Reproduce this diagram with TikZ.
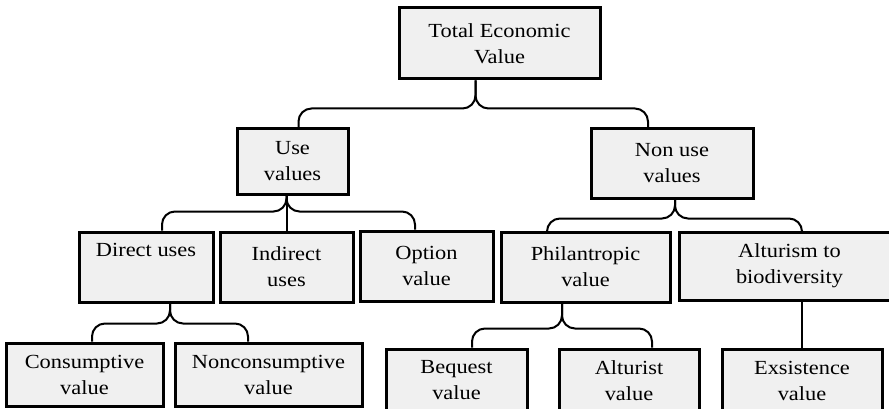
\documentclass[tikz,border=0pt]{standalone}
\usepackage{fontspec}
\setmainfont{Liberation Serif}[FakeStretch=1.12]
\definecolor{boxgray}{RGB}{240,240,240}
\tikzset{
  box/.style={draw, line width=3pt, fill=boxgray, align=center, inner sep=0pt,
    font=\fontsize{20}{26}\selectfont},
  brace/.style={line width=2pt, rounded corners=13pt}
}

\begin{document}
\begin{tikzpicture}[x=1pt,y=-1pt]
  \useasboundingbox (0,0) rectangle (889,409);
  % levels of the value tree
  \node[box,minimum width=201pt,minimum height=71pt] (TEV) at (499.5,43.5) {Total Economic\\Value};
  \node[box,minimum width=111pt,minimum height=65pt] (UV)  at (292.5,161.5) {Use\\values};
  \node[box,minimum width=162pt,minimum height=69pt] (NUV) at (672,163.5) {Non use\\values};

  \node[box,minimum width=134pt,minimum height=70pt] (DU) at (146,267) {Direct uses\\\strut};
  \node[box,minimum width=133pt,minimum height=70pt] (IU) at (286.5,267) {Indirect\\uses};
  \node[box,minimum width=133pt,minimum height=70pt] (OV) at (426.5,266) {Option\\value};
  \node[box,minimum width=169pt,minimum height=70pt] (PV) at (585.5,267) {Philantropic\\value};
  \node[box,minimum width=221pt,minimum height=68pt] (AB) at (789.5,266) {Alturism to\\biodiversity};

  \node[box,minimum width=157pt,minimum height=63pt] (CV)  at (84.5,374.5) {Consumptive\\value};
  \node[box,minimum width=187pt,minimum height=63pt] (NCV) at (268.5,374.5) {Nonconsumptive\\value};
  \node[box,minimum width=141pt,minimum height=63pt] (BV)  at (456.5,380.5) {Bequest\\value};
  \node[box,minimum width=140pt,minimum height=63pt] (AV)  at (629,380.5) {Alturist\\value};
  \node[box,minimum width=160pt,minimum height=63pt] (EV)  at (802,380.5) {Exsistence\\value};

  % braces
  \draw[brace] ([xshift=-24pt]TEV.south) -- ++(0,28) -| ([xshift=6pt]UV.north);
  \draw[brace] ([xshift=-24pt]TEV.south) -- ++(0,28) -| ([xshift=-24pt]NUV.north);

  \draw[brace] (IU.north |- UV.south) -- ++(0,16) -| ([xshift=16pt]DU.north);
  \draw[brace] (IU.north |- UV.south) -- ++(0,16) -| ([xshift=-11.5pt]OV.north);
  \draw[brace] (IU.north |- UV.south) -- (IU.north);

  \draw[brace] ([xshift=3pt]NUV.south) -- ++(0,19) -| ([xshift=-38.5pt]PV.north);
  \draw[brace] ([xshift=3pt]NUV.south) -- ++(0,19) -| ([xshift=12.5pt]AB.north);

  \draw[brace] ([xshift=24pt]DU.south) -- ++(0,20) -| ([xshift=7.5pt]CV.north);
  \draw[brace] ([xshift=24pt]DU.south) -- ++(0,20) -| ([xshift=-20.5pt]NCV.north);

  \draw[brace] ([xshift=-23.5pt]PV.south) -- ++(0,25) -| ([xshift=15.5pt]BV.north);
  \draw[brace] ([xshift=-23.5pt]PV.south) -- ++(0,25) -| ([xshift=23pt]AV.north);
  \draw[brace] (EV.north |- AB.south) -- (EV.north);
\end{tikzpicture}
\end{document}
